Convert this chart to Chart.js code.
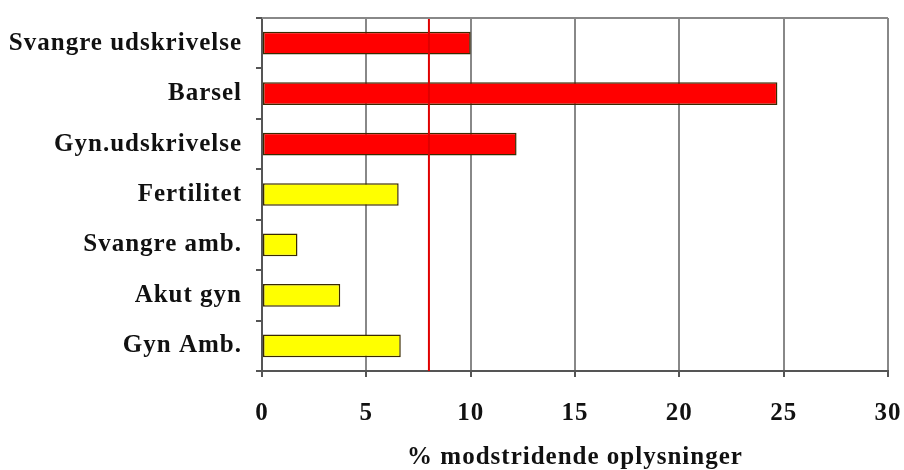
<!DOCTYPE html>
<html>
<head>
<meta charset="utf-8">
<script src="https://cdn.jsdelivr.net/npm/chart.js@4"></script>
<style>
  html, body { margin: 0; padding: 0; background: #fff; }
  #wrap { width: 904px; height: 470px; }
</style>
</head>
<body>
<div id="wrap"><canvas id="myChart" width="904" height="470"></canvas></div>
<script>
let labels = ['Svangre udskrivelse', 'Barsel', 'Gyn.udskrivelse', 'Fertilitet', 'Svangre amb.', 'Akut gyn', 'Gyn Amb.'];
let values = [10.0, 24.7, 12.2, 6.55, 1.7, 3.75, 6.65];
let barColors = ['#FF0000', '#FF0000', '#FF0000', '#FFFF00', '#FFFF00', '#FFFF00', '#FFFF00'];
let xTicks = [0, 5, 10, 15, 20, 25, 30];
let markerValue = 8;

let fontBold = { family: "'Liberation Serif', 'DejaVu Serif', serif", size: 25, weight: 'bold' };

// old excel-ish look: text a bit spread out
let spacing = {
  id: 'spacing',
  beforeLayout(chart) { chart.ctx.letterSpacing = '1px'; },
  beforeDraw(chart) { chart.ctx.letterSpacing = '1px'; }
};

// red reference line + grey frame on top
let markerLine = {
  id: 'markerLine',
  afterDatasetsDraw(chart) {
    let ctx = chart.ctx;
    let area = chart.chartArea;
    let x = chart.scales.x.getPixelForValue(markerValue);
    ctx.save();
    ctx.strokeStyle = '#E00000';
    ctx.lineWidth = 2;
    ctx.beginPath();
    ctx.moveTo(x, area.top);
    ctx.lineTo(x, area.bottom);
    ctx.stroke();
    ctx.strokeStyle = '#888';
    ctx.beginPath();
    ctx.moveTo(area.left, area.top);
    ctx.lineTo(area.right, area.top);
    ctx.stroke();
    ctx.restore();
  }
};

let ctx1 = document.getElementById('myChart').getContext('2d');
let myChart = new Chart(ctx1, {
  type: 'bar',
  data: {
    labels: labels,
    datasets: [{
      data: values,
      backgroundColor: barColors,
      borderColor: '#3a2a00',
      borderWidth: 1.5,
      borderSkipped: false,
      categoryPercentage: 0.9,
      barPercentage: 0.5
    }]
  },
  options: {
    responsive: false,
    animation: false,
    indexAxis: 'y',
    layout: { padding: { top: 18, right: 16, left: 0, bottom: 0 } },
    plugins: {
      legend: { display: false },
      tooltip: { enabled: false }
    },
    scales: {
      x: {
        min: 0,
        max: 30,
        afterBuildTicks: (scale) => { scale.ticks = xTicks.map(v => ({ value: v })); },
        afterFit: (scale) => {
          scale.height = 99;
          scale.paddingLeft = 0;
          scale.paddingRight = 0;
        },
        grid: { color: '#888', lineWidth: 2, tickLength: 6, tickColor: '#555' },
        border: { color: '#555', width: 2 },
        ticks: { color: '#111', font: fontBold, padding: 22 },
        title: {
          display: true,
          text: '% modstridende oplysninger',
          color: '#111',
          font: Object.assign({}, fontBold, { lineHeight: 1.0 }),
          padding: { top: 10, bottom: 0 }
        }
      },
      y: {
        grid: { drawOnChartArea: false, tickLength: 6, color: '#555', lineWidth: 2 },
        border: { color: '#555', width: 2 },
        ticks: { color: '#111', font: fontBold, padding: 14 },
        afterFit: (scale) => {
          scale.width = 262;
          scale.paddingTop = 0;
          scale.paddingBottom = 0;
        }
      }
    }
  },
  plugins: [spacing, markerLine]
});
</script>
</body>
</html>
